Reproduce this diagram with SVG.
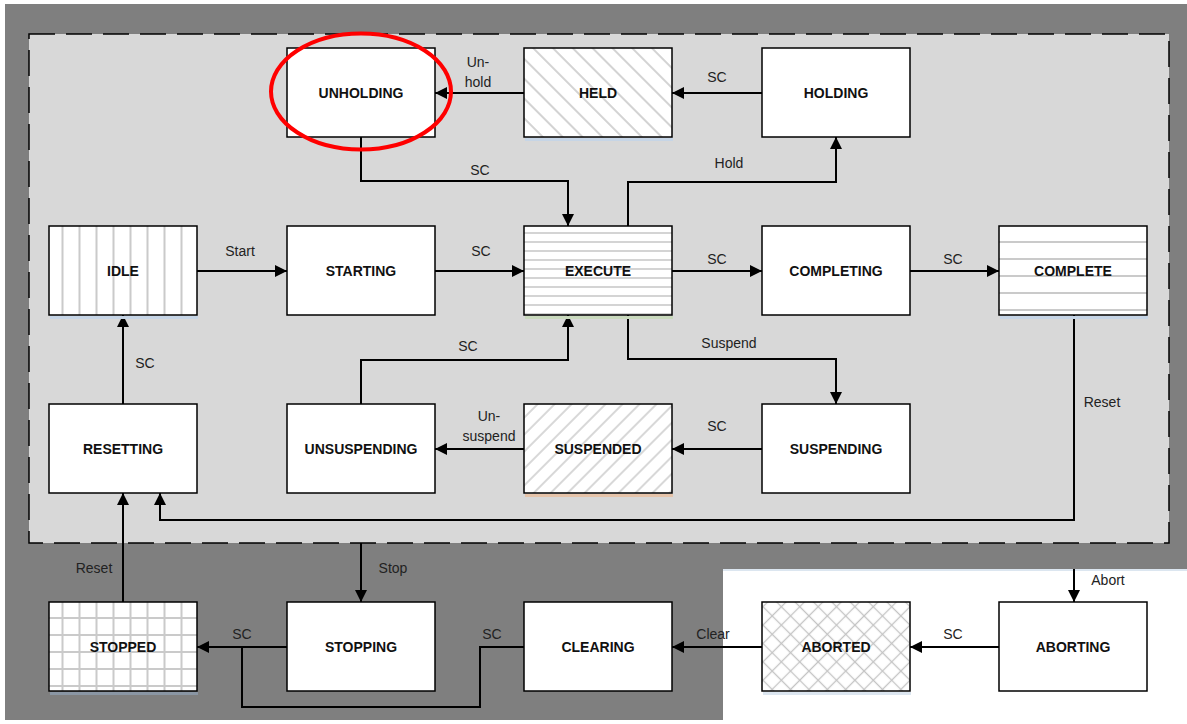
<svg xmlns="http://www.w3.org/2000/svg" width="1187" height="724" viewBox="0 0 1187 724">
<style>
.box{fill:#fff;stroke:#000;stroke-width:1.5}
.t{font-family:"Liberation Sans",Arial,sans-serif;font-weight:bold;font-size:14px;fill:#111;text-anchor:middle}
.l{font-family:"Liberation Sans",Arial,sans-serif;font-size:14px;fill:#222;text-anchor:middle}
.c{fill:none;stroke:#000;stroke-width:2}
.hl{stroke:#cacaca;stroke-width:2}
</style>
<defs>
<marker id="ah" viewBox="0 0 12 12" refX="12" refY="6" markerWidth="12" markerHeight="12" markerUnits="userSpaceOnUse" orient="auto">
<path d="M0,0 L12,6 L0,12 Z" fill="#000"/>
</marker>
<pattern id="pV" patternUnits="userSpaceOnUse" width="17" height="17" x="49" y="0">
<rect width="17" height="17" fill="#fff"/><line x1="13.5" y1="0" x2="13.5" y2="17" class="hl"/>
</pattern>
<pattern id="pH9" patternUnits="userSpaceOnUse" width="9" height="9" x="0" y="226">
<rect width="9" height="9" fill="#fff"/><line x1="0" y1="7" x2="9" y2="7" stroke="#d4d4d4" stroke-width="2"/>
</pattern>
<pattern id="pH17" patternUnits="userSpaceOnUse" width="17" height="17" x="0" y="226">
<rect width="17" height="17" fill="#fff"/><line x1="0" y1="16" x2="17" y2="16" class="hl"/>
</pattern>
<pattern id="pD1" patternUnits="userSpaceOnUse" width="14" height="14" patternTransform="rotate(-45)">
<rect width="14" height="14" fill="#fff"/><line x1="7" y1="0" x2="7" y2="14" stroke="#c8c8c8" stroke-width="1.6"/>
</pattern>
<pattern id="pD2" patternUnits="userSpaceOnUse" width="12" height="12" patternTransform="rotate(45)">
<rect width="12" height="12" fill="#fff"/><line x1="6" y1="0" x2="6" y2="12" stroke="#c8c8c8" stroke-width="1.4"/>
</pattern>
<pattern id="pG" patternUnits="userSpaceOnUse" width="17" height="17" x="49" y="602">
<rect width="17" height="17" fill="#fff"/><line x1="13.5" y1="0" x2="13.5" y2="17" class="hl"/><line x1="0" y1="16" x2="17" y2="16" class="hl"/>
</pattern>
<pattern id="pX" patternUnits="userSpaceOnUse" width="13" height="13" patternTransform="rotate(45)">
<rect width="13" height="13" fill="#fff"/><line x1="6.5" y1="0" x2="6.5" y2="13" stroke="#c4c4c4" stroke-width="1.3"/><line x1="0" y1="6.5" x2="13" y2="6.5" stroke="#c4c4c4" stroke-width="1.3"/>
</pattern>
</defs>

<g id="background">
<rect x="5" y="4" width="1182" height="716" fill="#7f7f7f"/>
<rect x="723" y="569" width="464" height="155" fill="#fff"/>
<line x1="723" y1="570" x2="1187" y2="570" stroke="#dce6f0" stroke-width="2"/>
<rect x="29" y="34" width="1140" height="509" fill="#d8d8d8" stroke="#000" stroke-width="1.5" stroke-dasharray="26 11"/>
</g>

<g id="connectors">
<path class="c" d="M524,93 H435" marker-end="url(#ah)"/>
<path class="c" d="M762,93 H672" marker-end="url(#ah)"/>
<path class="c" d="M361,137 V181 H568 V226" marker-end="url(#ah)"/>
<path class="c" d="M628,226 V182 H836 V137" marker-end="url(#ah)"/>
<path class="c" d="M197,271 H287" marker-end="url(#ah)"/>
<path class="c" d="M435,271 H524" marker-end="url(#ah)"/>
<path class="c" d="M672,271 H762" marker-end="url(#ah)"/>
<path class="c" d="M910,271 H999" marker-end="url(#ah)"/>
<path class="c" d="M1074,315 V520 H160 V493" marker-end="url(#ah)"/>
<path class="c" d="M123,404 V315" marker-end="url(#ah)"/>
<path class="c" d="M628,315 V359 H836 V404" marker-end="url(#ah)"/>
<path class="c" d="M762,449 H672" marker-end="url(#ah)"/>
<path class="c" d="M524,449 H435" marker-end="url(#ah)"/>
<path class="c" d="M361,404 V360 H568 V315" marker-end="url(#ah)"/>
<path class="c" d="M361,543 V602" marker-end="url(#ah)"/>
<path class="c" d="M123,602 V493" marker-end="url(#ah)"/>
<path class="c" d="M287,647 H197" marker-end="url(#ah)"/>
<path class="c" d="M524,647 H480 V707 H242 V647"/>
<path class="c" d="M762,647 H672" marker-end="url(#ah)"/>
<path class="c" d="M999,647 H910" marker-end="url(#ah)"/>
<path class="c" d="M1074,569 V602" marker-end="url(#ah)"/>
<text class="l" x="478" y="67">Un-</text>
<text class="l" x="478" y="87">hold</text>
<text class="l" x="717" y="82">SC</text>
<text class="l" x="480" y="175">SC</text>
<text class="l" x="729" y="168">Hold</text>
<text class="l" x="240" y="256">Start</text>
<text class="l" x="481" y="256">SC</text>
<text class="l" x="717" y="264">SC</text>
<text class="l" x="953" y="264">SC</text>
<text class="l" x="145" y="368">SC</text>
<text class="l" x="468" y="351">SC</text>
<text class="l" x="729" y="348">Suspend</text>
<text class="l" x="1102" y="407">Reset</text>
<text class="l" x="489" y="421">Un-</text>
<text class="l" x="489" y="441">suspend</text>
<text class="l" x="717" y="431">SC</text>
<text class="l" x="94" y="573">Reset</text>
<text class="l" x="393" y="573">Stop</text>
<text class="l" x="242" y="639">SC</text>
<text class="l" x="492" y="639">SC</text>
<text class="l" x="713" y="639">Clear</text>
<text class="l" x="953" y="639">SC</text>
<text class="l" x="1108" y="585">Abort</text>
</g>

<g id="unholding"><rect class="box" x="287" y="48" width="148" height="89"/><text class="t" x="361" y="98">UNHOLDING</text></g>
<g id="held"><rect x="525" y="138" width="148" height="3" fill="#c6d5e6"/><rect class="box" x="524" y="48" width="148" height="89" style="fill:url(#pD1)"/><text class="t" x="598" y="98">HELD</text></g>
<g id="holding"><rect class="box" x="762" y="48" width="148" height="89"/><text class="t" x="836" y="98">HOLDING</text></g>

<g id="idle"><rect x="50" y="316" width="148" height="3" fill="#c6d5e6"/><rect class="box" x="49" y="226" width="148" height="89" style="fill:url(#pV)"/><text class="t" x="123" y="276">IDLE</text></g>
<g id="starting"><rect class="box" x="287" y="226" width="148" height="89"/><text class="t" x="361" y="276">STARTING</text></g>
<g id="execute"><rect x="525" y="316" width="148" height="3" fill="#c9d9bd"/><rect class="box" x="524" y="226" width="148" height="89" style="fill:url(#pH9)"/><text class="t" x="598" y="276">EXECUTE</text></g>
<g id="completing"><rect class="box" x="762" y="226" width="148" height="89"/><text class="t" x="836" y="276">COMPLETING</text></g>
<g id="complete"><rect x="1000" y="316" width="148" height="3" fill="#c6d5e6"/><rect class="box" x="999" y="226" width="148" height="89" style="fill:url(#pH17)"/><text class="t" x="1073" y="276">COMPLETE</text></g>

<g id="resetting"><rect class="box" x="49" y="404" width="148" height="89"/><text class="t" x="123" y="454">RESETTING</text></g>
<g id="unsuspending"><rect class="box" x="287" y="404" width="148" height="89"/><text class="t" x="361" y="454">UNSUSPENDING</text></g>
<g id="suspended"><rect x="525" y="494" width="148" height="3" fill="#e6c4aa"/><rect class="box" x="524" y="404" width="148" height="89" style="fill:url(#pD2)"/><text class="t" x="598" y="454">SUSPENDED</text></g>
<g id="suspending"><rect class="box" x="762" y="404" width="148" height="89"/><text class="t" x="836" y="454">SUSPENDING</text></g>

<g id="stopped"><rect x="50" y="692" width="148" height="3" fill="#8a96a4"/><rect class="box" x="49" y="602" width="148" height="89" style="fill:url(#pG)"/><text class="t" x="123" y="652">STOPPED</text></g>
<g id="stopping"><rect class="box" x="287" y="602" width="148" height="89"/><text class="t" x="361" y="652">STOPPING</text></g>
<g id="clearing"><rect class="box" x="524" y="602" width="148" height="89"/><text class="t" x="598" y="652">CLEARING</text></g>
<g id="aborted"><rect x="763" y="692" width="148" height="3" fill="#dce6f0"/><rect class="box" x="762" y="602" width="148" height="89" style="fill:url(#pX)"/><text class="t" x="836" y="652">ABORTED</text></g>
<g id="aborting"><rect class="box" x="999" y="602" width="148" height="89"/><text class="t" x="1073" y="652">ABORTING</text></g>

<g id="highlight"><ellipse cx="361" cy="91.5" rx="90" ry="58" fill="none" stroke="#ff0000" stroke-width="4"/></g>
</svg>
